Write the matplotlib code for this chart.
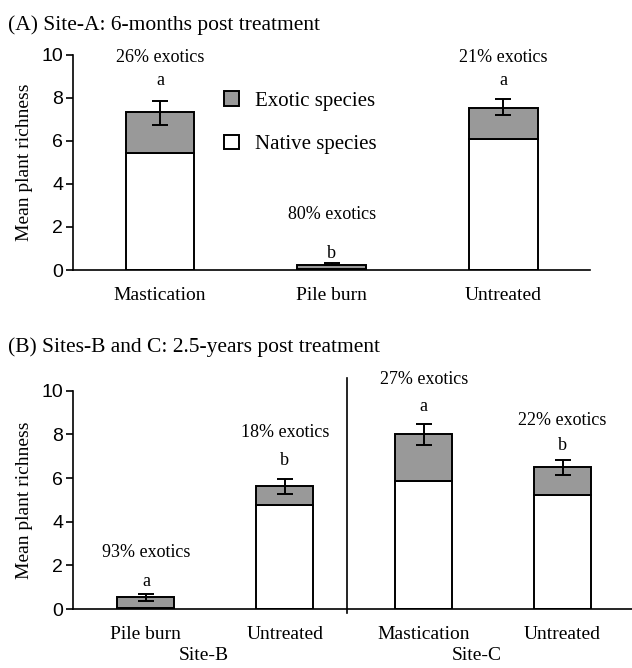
import matplotlib.pyplot as plt
import numpy as np

# Panel A: Site-A, 6 months post treatment
cats_a = ['Mastication', 'Pile burn', 'Untreated']
native_a = [5.45, 0.05, 6.1]
total_a = [7.35, 0.23, 7.55]
err_lo_a = [6.75, 0.23, 7.22]
err_hi_a = [7.85, 0.31, 7.97]
pct_a = ['26% exotics', '80% exotics', '21% exotics']
letters_a = ['a', 'b', 'a']

# Panel B: Sites B and C, 2.5 years post treatment
cats_b = ['Pile burn', 'Untreated', 'Mastication', 'Untreated']
sites_b = ['Site-B', 'Site-C']
native_b = [0.05, 4.75, 5.88, 5.22]
total_b = [0.55, 5.65, 8.0, 6.5]
err_lo_b = [0.38, 5.25, 7.52, 6.12]
err_hi_b = [0.68, 5.96, 8.5, 6.82]
pct_b = ['93% exotics', '18% exotics', '27% exotics', '22% exotics']
letters_b = ['a', 'b', 'a', 'b']

serif = 'Liberation Serif'
sans = 'Liberation Sans'
grey = '#999999'

fig = plt.figure(figsize=(6.32, 6.68), dpi=100)
ax1 = fig.add_axes([0.1155, 0.5958, 0.8180, 0.3219])
ax2 = fig.add_axes([0.1155, 0.0883, 0.8845, 0.3267])


def draw(ax, cats, native, total, lo, hi, pct, letters, width, pct_y, let_y):
    x = np.arange(len(cats))
    exotic = np.array(total) - np.array(native)
    ax.bar(x, native, width, color='white', edgecolor='black', lw=1.4,
           label='Native species', zorder=2)
    ax.bar(x, exotic, width, bottom=native, color=grey, edgecolor='black',
           lw=1.4, label='Exotic species', zorder=2)
    tot = np.array(total)
    ax.errorbar(x, tot, yerr=[tot - np.array(lo), np.array(hi) - tot],
                fmt='none', ecolor='black', elinewidth=1.4, capsize=6,
                capthick=1.4, zorder=3)
    for i in range(len(cats)):
        ax.text(x[i], pct_y[i], pct[i], ha='center', va='center',
                family=serif, fontsize=13, clip_on=False)
        ax.text(x[i], let_y[i], letters[i], ha='center', va='center',
                family=serif, fontsize=13, clip_on=False)
    ax.set_ylim(0, 10)
    ax.set_yticks([0, 2, 4, 6, 8, 10])
    ax.set_xticks(x)
    ax.set_xticklabels(cats, family=serif, fontsize=14)
    ax.tick_params(axis='x', length=0, pad=12)
    ax.tick_params(axis='y', length=5, width=1.2, labelsize=14, pad=2)
    for lab in ax.get_yticklabels():
        lab.set_family(sans)
    ax.spines['top'].set_visible(False)
    ax.spines['right'].set_visible(False)
    ax.spines['left'].set_linewidth(1.2)
    ax.spines['bottom'].set_linewidth(1.2)
    ax.set_ylabel('Mean plant richness', family=serif, fontsize=14, labelpad=6)


draw(ax1, cats_a, native_a, total_a, err_lo_a, err_hi_a, pct_a, letters_a,
     0.4, [9.9, 2.6, 9.9], [8.8, 0.75, 8.8])
ax1.set_xlim(-0.507, 2.504)
fig.text(0.012, 1 - 25 / 668, '(A) Site-A: 6-months post treatment',
         family=serif, fontsize=15.5, ha='left', va='center')
h, l = ax1.get_legend_handles_labels()
ax1.legend(h[::-1], l[::-1], loc='upper left', bbox_to_anchor=(0.255, 0.92),
           frameon=False, prop={'family': serif, 'size': 15},
           handlelength=0.72, handleheight=0.72, handletextpad=0.8,
           labelspacing=1.15)

draw(ax2, cats_b, native_b, total_b, err_lo_b, err_hi_b, pct_b, letters_b,
     0.41, [2.58, 8.07, 10.5, 8.63], [1.28, 6.8, 9.28, 7.47])
ax2.set_xlim(-0.525, 3.5)
ax2.axvline(1.45, ymin=-0.02, ymax=1.06, color='black', lw=1.2, clip_on=False)
fig.text(0.012, 1 - 347 / 668, '(B) Sites-B and C: 2.5-years post treatment',
         family=serif, fontsize=15.5, ha='left', va='center')
site_x = [0.42, 2.38]
for j, s in enumerate(sites_b):
    ax2.text(site_x[j], -0.215, s, transform=ax2.get_xaxis_transform(),
             ha='center', va='center', family=serif, fontsize=14)

fig.savefig('out.png', dpi=100)
